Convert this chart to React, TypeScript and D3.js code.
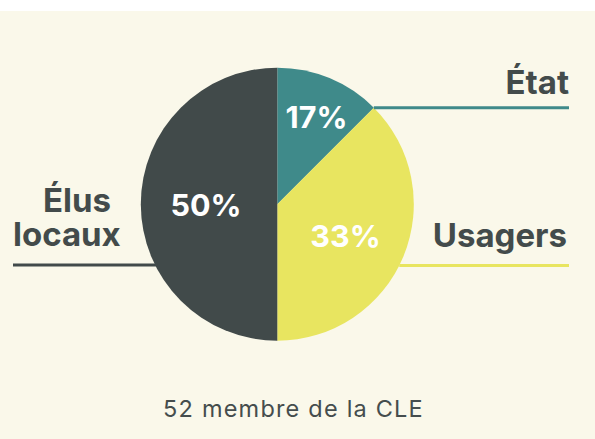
import React from "react";
import * as d3 from "d3";

const categories = ["État", "Usagers", "Élus locaux"];
const shares = [12.5, 37.5, 50];
const percentLabels = ["17%", "33%", "50%"];
const colors = ["#3f8a8a", "#e8e560", "#414a4a"];
const subtitle = "52 membre de la CLE";

const W = 595;
const H = 439;

export default function App() {
  const cx = 277.3;
  const cy = 204.2;
  const r = 136.5;
  const pie = d3.pie<number>().sort(null).value((d) => d);
  const arcs = pie(shares);
  const arc = d3.arc<d3.PieArcDatum<number>>().innerRadius(0).outerRadius(r);
  const font = "Inter, Roboto, sans-serif";
  const textColor = "#434b4b";

  const pt = (a: number) => [cx + r * Math.sin(a), cy - r * Math.cos(a)];
  const etatPt = pt(arcs[0].endAngle);
  const xAt = (y: number, side: number) => cx + side * Math.sqrt(r * r - (y - cy) * (y - cy));
  const yUs = 265.5;
  const yEl = 265;

  const pctPos = [
    [316.5, 128],
    [345.5, 247],
    [206, 216],
  ];

  return (
    <svg width={W} height={H} style={{ position: "absolute", left: 0, top: 0 }}>
      <rect x={0} y={0} width={W} height={H} fill="#ffffff" />
      <rect x={0} y={11} width={W} height={H - 11} fill="#faf8ea" />
      <g transform={`translate(${cx},${cy})`}>
        {arcs.map((a, i) => (
          <path key={i} d={arc(a) || ""} fill={colors[i]} />
        ))}
      </g>
      <line x1={etatPt[0]} y1={etatPt[1]} x2={569} y2={etatPt[1]} stroke={colors[0]} strokeWidth={3} />
      <line x1={xAt(yUs, 1)} y1={yUs} x2={569} y2={yUs} stroke={colors[1]} strokeWidth={3} />
      <line x1={13} y1={yEl} x2={xAt(yEl, -1) + 2} y2={yEl} stroke={colors[2]} strokeWidth={3} />
      {percentLabels.map((p, i) => (
        <text
          key={i}
          x={pctPos[i][0]}
          y={pctPos[i][1]}
          textAnchor="middle"
          fill="#ffffff"
          fontFamily={font}
          fontWeight={700}
          fontSize={30.5}
        >
          {p}
        </text>
      ))}
      <text x={569} y={94} textAnchor="end" fill={textColor} fontFamily={font} fontWeight={700} fontSize={33}>
        {categories[0]}
      </text>
      <text x={567} y={247} textAnchor="end" fill={textColor} fontFamily={font} fontWeight={700} fontSize={33}>
        {categories[1]}
      </text>
      <text x={43} y={212} fill={textColor} fontFamily={font} fontWeight={700} fontSize={33}>
        {categories[2].split(" ")[0]}
      </text>
      <text x={13} y={246} fill={textColor} fontFamily={font} fontWeight={700} fontSize={33}>
        {categories[2].split(" ")[1]}
      </text>
      <text
        x={293.5}
        y={417}
        textAnchor="middle"
        fill="#454d4d"
        fontFamily={font}
        fontSize={23.5}
        letterSpacing={1.2}
      >
        {subtitle}
      </text>
    </svg>
  );
}
